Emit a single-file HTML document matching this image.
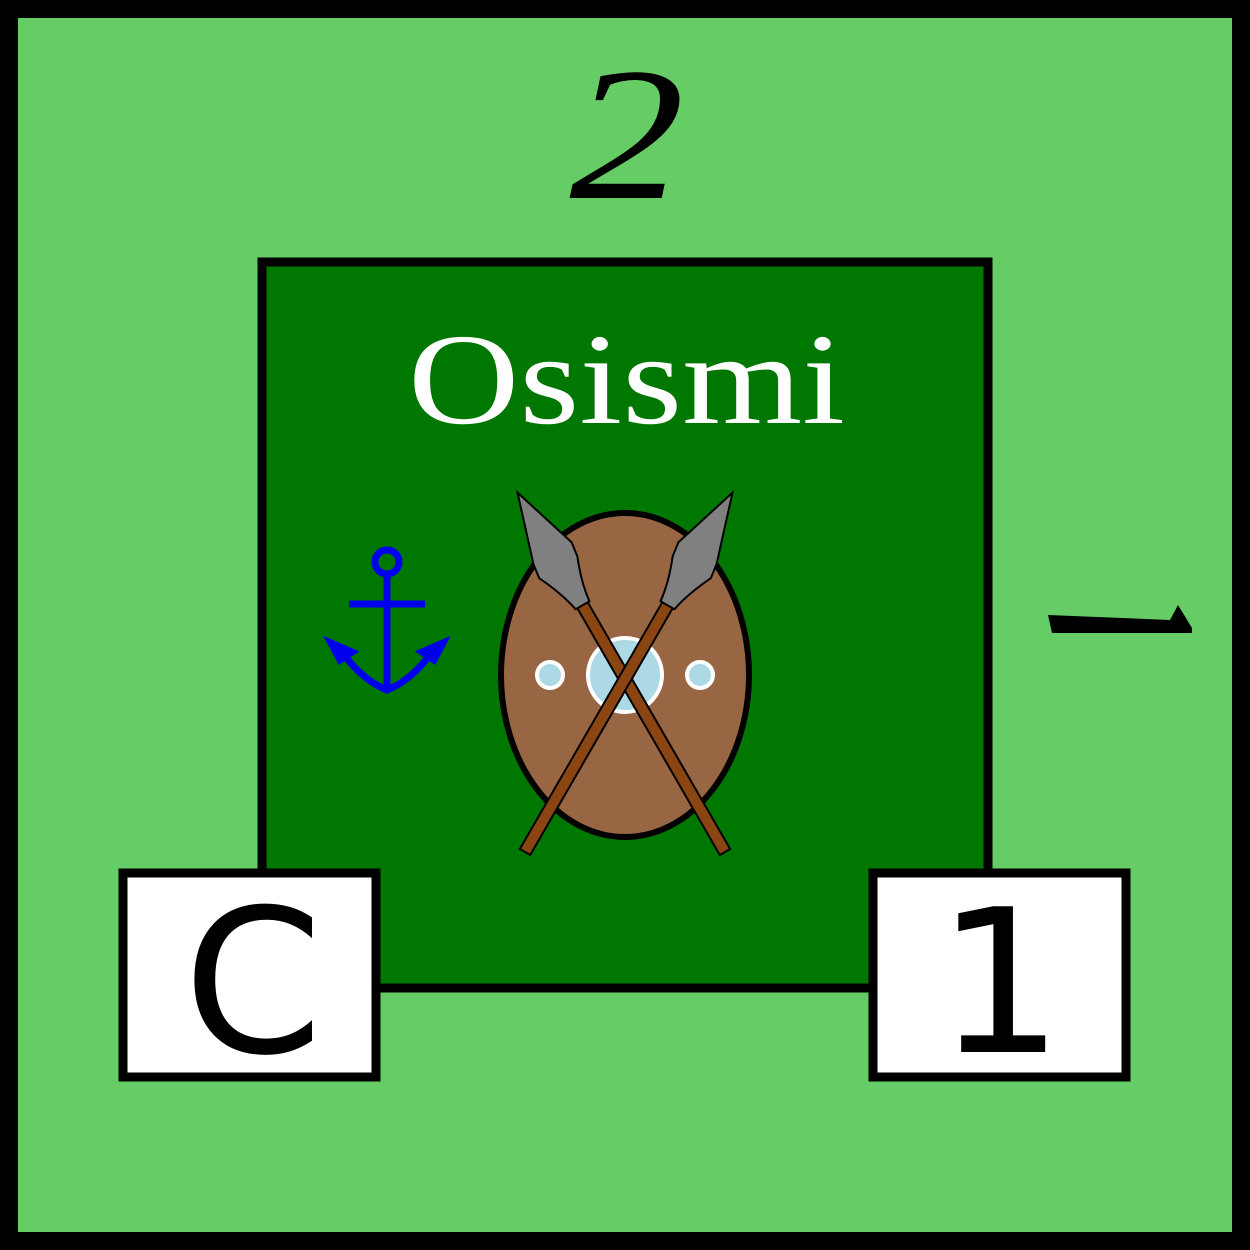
<!DOCTYPE html>
<html><head><meta charset="utf-8"><style>html,body{margin:0;padding:0;background:#000}svg{display:block}</style></head>
<body>
<svg width="1250" height="1250" viewBox="0 0 1250 1250" xmlns="http://www.w3.org/2000/svg">
  <rect x="9" y="9" width="1232" height="1232" fill="#66cc66" stroke="#000" stroke-width="18"/>
  <text x="627" y="198" text-anchor="middle" font-family="Liberation Serif, serif" font-style="italic" font-size="190" textLength="115" lengthAdjust="spacingAndGlyphs" fill="#000">2</text>
  <rect x="262" y="262" width="726" height="726" fill="#007700" stroke="#000" stroke-width="9"/>
  <text x="408" y="423" font-family="Liberation Serif, serif" font-size="130" textLength="437" lengthAdjust="spacingAndGlyphs" fill="#fff">Osismi</text>
  <g fill="none" stroke="#0000ee" stroke-width="7">
    <circle cx="387" cy="562" r="12"/>
    <line x1="387" y1="574" x2="387" y2="690"/>
    <line x1="349" y1="604" x2="425" y2="604"/>
    <path d="M342 652 Q362 680 387 690 Q412 680 432 652"/>
    <path d="M331 643 L352 652 L340 660 Z" fill="#0000ee"/>
    <path d="M443 643 L422 652 L434 660 Z" fill="#0000ee"/>
  </g>
  <g>
    <ellipse cx="625" cy="675" rx="124" ry="162" fill="#996644" stroke="#000" stroke-width="6"/>
    <circle cx="625" cy="675" r="37" fill="#add8e6" stroke="#fff" stroke-width="4"/>
    <circle cx="550" cy="675" r="13" fill="#add8e6" stroke="#fff" stroke-width="4"/>
    <circle cx="700" cy="675" r="13" fill="#add8e6" stroke="#fff" stroke-width="4"/>
  </g>
  <g transform="translate(725 852) rotate(-30)">
    <rect x="-6" y="-285" width="12" height="285" fill="#8b4513" stroke="#000" stroke-width="2"/>
    <path d="M0 -415 L22 -345 L20 -330 Q10 -305 8 -285 L-8 -285 Q-12 -305 -24 -330 L-22 -345 Z" fill="#808080" stroke="#000" stroke-width="2"/>
  </g>
  <g transform="translate(525 852) rotate(30)">
    <rect x="-6" y="-285" width="12" height="285" fill="#8b4513" stroke="#000" stroke-width="2"/>
    <path d="M0 -415 L22 -345 L24 -330 Q12 -305 8 -285 L-8 -285 Q-10 -305 -20 -330 L-22 -345 Z" fill="#808080" stroke="#000" stroke-width="2"/>
  </g>
  <path d="M1048 615 L1170 620 L1178 605 L1192 628 L1192 633 L1052 633 Z" fill="#000"/>
  <rect x="123" y="873" width="253" height="204" fill="#fff" stroke="#000" stroke-width="9"/>
  <text x="253" y="1052" text-anchor="middle" font-family="DejaVu Sans, sans-serif" font-size="200" fill="#000">C</text>
  <rect x="873" y="873" width="253" height="204" fill="#fff" stroke="#000" stroke-width="9"/>
  <text x="1000" y="1052" text-anchor="middle" font-family="DejaVu Sans, sans-serif" font-size="200" fill="#000">1</text>
</svg>
</body></html>
